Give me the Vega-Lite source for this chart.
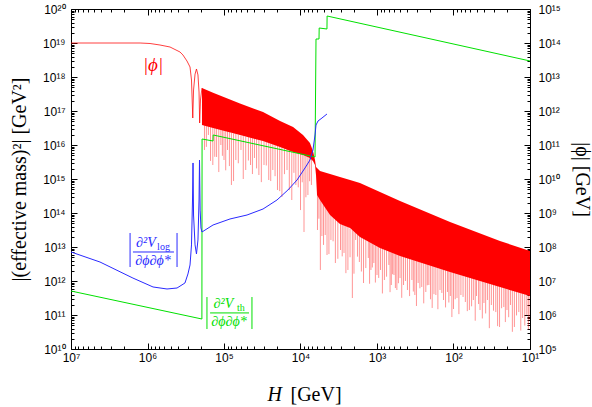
{
 "$schema": "https://vega.github.io/schema/vega-lite/v6.json",
 "width": 459, "height": 340,
 "autosize": {"type": "none"},
 "padding": {"left": 71, "top": 9, "right": 62, "bottom": 58},
 "background": "white",
 "config": {
  "view": {"stroke": null},
  "axis": {"grid": false, "domainColor": "black", "domainWidth": 1, "tickColor": "black", "tickWidth": 1,
   "labelFont": "Liberation Sans", "labelFontSize": 12, "labelColor": "black",
   "titleFont": "Liberation Serif", "titleFontSize": 20, "titleFontWeight": "normal", "titleColor": "black",
   "labelFlush": false, "labelOverlap": false}
 },
 "datasets": {
  "phi": [
   {"H":1e7,"phi":1e14},{"H":1.25e6,"phi":1e14},{"H":9.27e5,"phi":9.66e13},{"H":6.87e5,"phi":8.73e13},{"H":5.08e5,"phi":7.62e13},{"H":3.76e5,"phi":5.44e13},{"H":3.44e5,"phi":4.44e13},{"H":3.05e5,"phi":2.96e13},{"H":2.78e5,"phi":1.97e13},{"H":2.66e5,"phi":8.16e12},{"H":2.56e5,"phi":6.22e11},{"H":2.50e5,"phi":4.15e12},{"H":2.39e5,"phi":1.22e13},{"H":2.29e5,"phi":1.72e13},{"H":2.19e5,"phi":1.15e13},{"H":2.12e5,"phi":3.62e12},{"H":2.08e5,"phi":4.44e11},{"H":2.03e5,"phi":2.11e12},{"H":1.94e5,"phi":4.75e12}
  ],
  "band": [
   {"H":1.94e5,"top":4.75e12,"bot":3.87e11},{"H":1.39e5,"top":3.43e12,"bot":3.16e11},{"H":6.18e4,"top":1.67e12,"bot":1.97e11},{"H":3.09e4,"top":9.35e11,"bot":1.31e11},{"H":1.85e4,"top":5.08e11,"bot":8.73e10},{"H":1.25e4,"top":3.38e11,"bot":6.22e10},{"H":9.27e3,"top":1.97e11,"bot":5.08e10},{"H":7.52e3,"top":1.15e11,"bot":4.15e10},{"H":6.87e3,"top":6.67e10,"bot":3.38e10},{"H":6.46e3,"top":3.62e10,"bot":2.58e10},{"H":6.27e3,"top":2.25e10,"bot":1.31e10},{"H":6.08e3,"top":2.11e10,"bot":3.38e9},{"H":5.56e3,"top":1.72e10,"bot":2.41e9},{"H":4.11e3,"top":1.40e10,"bot":8.73e8},{"H":3.05e3,"top":1.15e10,"bot":4.75e8},{"H":2.25e3,"top":9.35e9,"bot":3.62e8},{"H":1.67e3,"top":7.62e9,"bot":1.97e8},{"H":914,"top":4.15e9,"bot":9.35e7},{"H":500,"top":2.25e9,"bot":5.44e7},{"H":111,"top":5.44e8,"bot":1.84e7},{"H":24.7,"top":1.50e8,"bot":6.67e6},{"H":10,"top":7.62e7,"bot":3.62e6}
  ],
  "spikes": [
   {"H":1.8e5,"hi":4.59e11,"lo":7.13e10},{"H":1.6e5,"hi":4.26e11,"lo":1.97e11},{"H":1.4e5,"hi":3.87e11,"lo":2.58e10},{"H":1.25e5,"hi":3.38e11,"lo":4.44e10},{"H":1.1e5,"hi":2.96e11,"lo":1.0e11},{"H":1e5,"hi":2.76e11,"lo":3.62e10},{"H":9e4,"hi":2.58e11,"lo":7.13e10},{"H":8e4,"hi":2.25e11,"lo":6.67e9},{"H":7e4,"hi":2.11e11,"lo":3.62e10},{"H":6e4,"hi":1.90e11,"lo":7.13e10},{"H":5.2e4,"hi":1.77e11,"lo":1.84e10},{"H":4.5e4,"hi":1.72e11,"lo":2.58e10},{"H":4e4,"hi":1.66e11,"lo":4.15e10},{"H":3.5e4,"hi":1.63e11,"lo":1.31e10},{"H":3e4,"hi":1.61e11,"lo":2.58e10},{"H":2.6e4,"hi":1.36e11,"lo":9.35e9},{"H":2.3e4,"hi":1.27e11,"lo":1.84e10},{"H":2e4,"hi":1.15e11,"lo":4.75e9},{"H":1.75e4,"hi":1.03e11,"lo":2.96e9},{"H":1.5e4,"hi":9.04e10,"lo":1.84e10},{"H":1.3e4,"hi":8.0e10,"lo":2.41e9},{"H":1.15e4,"hi":7.13e10,"lo":6.67e9},{"H":1e4,"hi":6.67e10,"lo":1.22e9},{"H":9e3,"hi":6.10e10,"lo":2.76e8},{"H":8e3,"hi":5.55e10,"lo":3.38e9},{"H":7.2e3,"hi":4.75e10,"lo":6.67e9},
   {"H":1.7e5,"hi":4.4e11,"lo":8.8e10},{"H":1.5e5,"hi":4.05e11,"lo":3.4e10},{"H":1.32e5,"hi":3.6e11,"lo":4.5e10},{"H":1.17e5,"hi":3.17e11,"lo":1.6e10},{"H":1.05e5,"hi":2.86e11,"lo":4.8e10},{"H":9.5e4,"hi":2.67e11,"lo":1.8e10},{"H":8.5e4,"hi":2.4e11,"lo":2.4e10},{"H":7.5e4,"hi":2.18e11,"lo":8.7e9},{"H":6.5e4,"hi":2.0e11,"lo":2.9e10},{"H":5.6e4,"hi":1.83e11,"lo":1.0e10},{"H":4.8e4,"hi":1.74e11,"lo":3.5e10},{"H":4.25e4,"hi":1.69e11,"lo":1.4e10},{"H":3.75e4,"hi":1.64e11,"lo":2.05e10},{"H":3.25e4,"hi":1.62e11,"lo":8.1e9},{"H":2.8e4,"hi":1.48e11,"lo":2.5e10},{"H":2.45e4,"hi":1.31e11,"lo":8.7e9},{"H":2.15e4,"hi":1.21e11,"lo":1.21e10},{"H":1.87e4,"hi":1.09e11,"lo":4.4e9},{"H":1.62e4,"hi":9.7e10,"lo":1.39e10},{"H":1.4e4,"hi":8.5e10,"lo":4.7e9},{"H":1.22e4,"hi":7.6e10,"lo":1.52e10},{"H":1.07e4,"hi":6.9e10,"lo":5.7e9},{"H":9.5e3,"hi":6.4e10,"lo":8e9},{"H":8.5e3,"hi":5.8e10,"lo":2.9e9},{"H":7.6e3,"hi":5.15e10,"lo":8.6e9},
   {"H":6000,"hi":3.87e9,"lo":3.16e8},{"H":5500,"hi":2.96e9,"lo":2.11e7},{"H":5000,"hi":2.11e9,"lo":1.15e8},{"H":4500,"hi":1.50e9,"lo":5.82e7},{"H":4000,"hi":1.0e9,"lo":1.61e8},{"H":3500,"hi":7.62e8,"lo":3.38e7},{"H":3000,"hi":5.82e8,"lo":8.16e7},{"H":2700,"hi":4.75e8,"lo":6.67e7},{"H":2400,"hi":3.87e8,"lo":2.11e7},{"H":2100,"hi":3.16e8,"lo":3.16e6},{"H":1900,"hi":2.76e8,"lo":1.61e8},{"H":1700,"hi":2.41e8,"lo":3.62e7},{"H":1500,"hi":2.11e8,"lo":8.73e6},{"H":1300,"hi":1.72e8,"lo":4.75e7},{"H":1200,"hi":1.61e8,"lo":2.11e7},{"H":1100,"hi":1.40e8,"lo":3.38e7},{"H":1000,"hi":1.31e8,"lo":1.50e7},{"H":900,"hi":1.15e8,"lo":2.11e7},{"H":800,"hi":1.0e8,"lo":1.07e7},{"H":700,"hi":8.73e7,"lo":2.96e7},{"H":650,"hi":8.16e7,"lo":7.62e6},{"H":600,"hi":7.62e7,"lo":1.50e7},{"H":550,"hi":7.13e7,"lo":5.44e6},{"H":500,"hi":6.67e7,"lo":1.22e7},{"H":450,"hi":6.22e7,"lo":7.62e6},{"H":400,"hi":5.82e7,"lo":5.44e6},{"H":350,"hi":5.08e7,"lo":1.07e7},{"H":320,"hi":4.75e7,"lo":3.87e6},{"H":290,"hi":4.44e7,"lo":8.73e6},{"H":260,"hi":4.15e7,"lo":6.67e6},{"H":230,"hi":3.87e7,"lo":4.75e6},{"H":210,"hi":3.62e7,"lo":7.62e6},{"H":190,"hi":3.38e7,"lo":1.61e6},{"H":170,"hi":3.16e7,"lo":3.87e6},{"H":150,"hi":2.76e7,"lo":5.44e6},{"H":135,"hi":2.58e7,"lo":2.76e6},{"H":120,"hi":2.41e7,"lo":4.75e6},{"H":110,"hi":2.25e7,"lo":3.62e6},{"H":100,"hi":2.11e7,"lo":1.50e6},{"H":90,"hi":1.97e7,"lo":3.16e6},{"H":80,"hi":1.84e7,"lo":3.87e6},{"H":70,"hi":1.61e7,"lo":2.41e6},{"H":62,"hi":1.50e7,"lo":1.40e6},{"H":55,"hi":1.40e7,"lo":2.76e6},{"H":50,"hi":1.31e7,"lo":3.62e6},{"H":45,"hi":1.22e7,"lo":1.40e6},{"H":40,"hi":1.15e7,"lo":2.25e6},{"H":36,"hi":1.07e7,"lo":2.76e6},{"H":32,"hi":1.0e7,"lo":1.97e6},{"H":28,"hi":8.73e6,"lo":1.22e6},{"H":25,"hi":8.16e6,"lo":4.44e5},{"H":22,"hi":7.62e6,"lo":1.72e6},{"H":20,"hi":7.13e6,"lo":1.40e6},{"H":18,"hi":6.67e6,"lo":1.97e6},{"H":16,"hi":6.22e6,"lo":4.44e5},{"H":14,"hi":5.44e6,"lo":1.22e6},{"H":12.5,"hi":5.08e6,"lo":8.16e5},{"H":11,"hi":4.75e6,"lo":1.0e6},{"H":10,"hi":4.44e6,"lo":7.13e5},
   {"H":5750,"hi":3.4e9,"lo":6.8e8},{"H":5250,"hi":2.5e9,"lo":2.1e8},{"H":4750,"hi":1.8e9,"lo":2.25e8},{"H":4250,"hi":1.25e9,"lo":6.2e7},{"H":3750,"hi":8.8e8,"lo":1.47e8},{"H":3250,"hi":6.7e8,"lo":4.5e7},{"H":2850,"hi":5.3e8,"lo":5.3e7},{"H":2550,"hi":4.3e8,"lo":1.7e7},{"H":2250,"hi":3.5e8,"lo":5e7},{"H":2000,"hi":2.96e8,"lo":1.64e7},{"H":1800,"hi":2.6e8,"lo":5.2e7},{"H":1600,"hi":2.26e8,"lo":1.9e7},{"H":1400,"hi":1.9e8,"lo":2.4e7},{"H":1250,"hi":1.66e8,"lo":8.3e6},{"H":1150,"hi":1.5e8,"lo":2.5e7},{"H":1050,"hi":1.35e8,"lo":9e6},{"H":950,"hi":1.23e8,"lo":1.23e7},{"H":850,"hi":1.07e8,"lo":4.3e6},{"H":750,"hi":9.4e7,"lo":1.34e7},{"H":675,"hi":8.4e7,"lo":4.7e6},{"H":625,"hi":7.9e7,"lo":1.58e7},{"H":575,"hi":7.4e7,"lo":6.2e6},{"H":525,"hi":6.9e7,"lo":8.6e6},{"H":475,"hi":6.4e7,"lo":3.2e6},{"H":425,"hi":6.0e7,"lo":1e7},{"H":375,"hi":5.45e7,"lo":3.6e6},{"H":335,"hi":4.9e7,"lo":4.9e6},{"H":305,"hi":4.6e7,"lo":1.84e6},{"H":275,"hi":4.3e7,"lo":6.1e6},{"H":245,"hi":4.0e7,"lo":2.2e6},{"H":220,"hi":3.75e7,"lo":7.5e6},{"H":200,"hi":3.5e7,"lo":2.9e6},{"H":180,"hi":3.27e7,"lo":4.1e6},{"H":160,"hi":2.96e7,"lo":1.48e6},{"H":142,"hi":2.67e7,"lo":4.45e6},{"H":127,"hi":2.5e7,"lo":1.67e6},{"H":115,"hi":2.33e7,"lo":2.33e6},{"H":105,"hi":2.18e7,"lo":8.7e5},{"H":95,"hi":2.04e7,"lo":2.9e6},{"H":85,"hi":1.9e7,"lo":1.06e6},{"H":75,"hi":1.72e7,"lo":3.4e6},{"H":66,"hi":1.55e7,"lo":1.3e6},{"H":58,"hi":1.45e7,"lo":1.8e6},{"H":52,"hi":1.35e7,"lo":6.8e5},{"H":47,"hi":1.26e7,"lo":2.1e6},{"H":42,"hi":1.18e7,"lo":7.9e5},{"H":38,"hi":1.11e7,"lo":1.11e6},{"H":34,"hi":1.03e7,"lo":4.1e5},{"H":30,"hi":9.4e6,"lo":1.34e6},{"H":26.5,"hi":8.4e6,"lo":4.7e5},{"H":23.5,"hi":7.9e6,"lo":1.58e6},{"H":21,"hi":7.4e6,"lo":6.2e5},{"H":19,"hi":6.9e6,"lo":8.6e5},{"H":17,"hi":6.4e6,"lo":3.2e5},{"H":15,"hi":5.8e6,"lo":9.7e5},{"H":13.2,"hi":5.3e6,"lo":3.5e5},{"H":11.7,"hi":4.9e6,"lo":4.9e5},{"H":10.5,"hi":4.6e6,"lo":3.8e5}
  ],
  "vth": [
   {"H":1e7,"m2":5.08e11},{"H":1.945e5,"m2":7.62e10},{"H":1.935e5,"m2":1.50e16},{"H":1.39e5,"m2":1.31e16},{"H":1.385e5,"m2":1.97e16},{"H":6.46e3,"m2":4.44e15},{"H":6.27e3,"m2":1.31e19},{"H":5.73e3,"m2":1.31e19},{"H":5.70e3,"m2":2.76e19},{"H":4.51e3,"m2":2.58e19},{"H":4.49e3,"m2":6.22e19},{"H":10,"m2":2.96e18}
  ],
  "vlog": [
   {"H":1e7,"m2":7.13e12},{"H":4.18e6,"m2":3.62e12},{"H":1.55e6,"m2":1.22e12},{"H":8.47e5,"m2":6.67e11},{"H":5.56e5,"m2":5.82e11},{"H":4.11e5,"m2":6.22e11},{"H":3.24e5,"m2":8.73e11},{"H":2.96e5,"m2":1.61e12},{"H":2.78e5,"m2":2.96e12},{"H":2.66e5,"m2":1.15e13},{"H":2.58e5,"m2":2.41e14},{"H":2.54e5,"m2":2.96e15},{"H":2.50e5,"m2":8.73e13},{"H":2.39e5,"m2":1.15e13},{"H":2.29e5,"m2":6.22e12},{"H":2.19e5,"m2":1.61e13},{"H":2.12e5,"m2":2.41e14},{"H":2.09e5,"m2":3.62e15},{"H":2.05e5,"m2":1.22e14},{"H":2.0e5,"m2":3.62e13},{"H":1.94e5,"m2":2.76e13},{"H":1.39e5,"m2":4.44e13},{"H":8.35e4,"m2":6.67e13},{"H":5.0e4,"m2":8.73e13},{"H":3.09e4,"m2":1.31e14},{"H":2.03e4,"m2":2.41e14},{"H":1.46e4,"m2":4.75e14},{"H":1.11e4,"m2":9.35e14},{"H":8.73e3,"m2":2.11e15},{"H":7.52e3,"m2":3.62e15},{"H":6.87e3,"m2":7.13e15},{"H":6.46e3,"m2":1.97e16},{"H":6.27e3,"m2":3.87e16},{"H":5.90e3,"m2":5.08e16},{"H":5.24e3,"m2":6.22e16},{"H":4.51e3,"m2":8.16e16}
  ]
 },
 "resolve": {"scale": {"x": "independent", "y": "independent"}, "axis": {"x": "independent", "y": "independent"}},
 "layer": [
  {
   "data": {"name": "band"},
   "mark": {"type": "area", "color": "#ff0000", "clip": true},
   "encoding": {
    "x": {"field": "H", "type": "quantitative", "scale": {"type": "log", "domain": [10, 1e7], "reverse": true, "nice": false},
     "axis": {"orient": "top", "values": [10,100,1000,10000,100000,1000000,10000000], "labels": false, "tickSize": -6, "title": null}},
    "y": {"field": "top", "type": "quantitative", "scale": {"type": "log", "domain": [1e5, 1e15], "nice": false},
     "axis": {"orient": "right", "values": [1e5,1e6,1e7,1e8,1e9,1e10,1e11,1e12,1e13,1e14,1e15], "tickSize": -6, "labelPadding": 14,
      "labelExpr": "'10' + replace(replace(replace(replace(replace(replace(replace(replace(replace(replace('' + round(log(datum.value)/LN10), regexp('0','g'), '⁰'), regexp('1','g'), '¹'), regexp('2','g'), '²'), regexp('3','g'), '³'), regexp('4','g'), '⁴'), regexp('5','g'), '⁵'), regexp('6','g'), '⁶'), regexp('7','g'), '⁷'), regexp('8','g'), '⁸'), regexp('9','g'), '⁹')",
      "title": "|ϕ| [GeV]", "titleX": 51, "titleY": 170, "titleAngle": 90, "titleAlign": "center", "titleBaseline": "middle"}},
    "y2": {"field": "bot"}
   }
  },
  {
   "data": {"name": "spikes"},
   "mark": {"type": "rule", "color": "#ff0000", "opacity": 0.42, "strokeWidth": 1, "clip": true},
   "encoding": {
    "x": {"field": "H", "type": "quantitative", "scale": {"type": "log", "domain": [10, 1e7], "reverse": true, "nice": false},
     "axis": {"orient": "top", "values": [20,30,40,50,60,70,80,90,200,300,400,500,600,700,800,900,2000,3000,4000,5000,6000,7000,8000,9000,20000,30000,40000,50000,60000,70000,80000,90000,200000,300000,400000,500000,600000,700000,800000,900000,2000000,3000000,4000000,5000000,6000000,7000000,8000000,9000000], "labels": false, "domain": false, "tickSize": -3, "title": null}},
    "y": {"field": "lo", "type": "quantitative", "scale": {"type": "log", "domain": [1e5, 1e15], "nice": false},
     "axis": {"orient": "right", "values": [2e5,3e5,4e5,5e5,6e5,7e5,8e5,9e5,2e6,3e6,4e6,5e6,6e6,7e6,8e6,9e6,2e7,3e7,4e7,5e7,6e7,7e7,8e7,9e7,2e8,3e8,4e8,5e8,6e8,7e8,8e8,9e8,2e9,3e9,4e9,5e9,6e9,7e9,8e9,9e9,2e10,3e10,4e10,5e10,6e10,7e10,8e10,9e10,2e11,3e11,4e11,5e11,6e11,7e11,8e11,9e11,2e12,3e12,4e12,5e12,6e12,7e12,8e12,9e12,2e13,3e13,4e13,5e13,6e13,7e13,8e13,9e13,2e14,3e14,4e14,5e14,6e14,7e14,8e14,9e14], "labels": false, "domain": false, "tickSize": -3, "title": null}},
    "y2": {"field": "hi"}
   }
  },
  {
   "data": {"name": "phi"},
   "mark": {"type": "line", "color": "#ff0000", "strokeWidth": 1, "opacity": 0.75, "clip": true},
   "encoding": {
    "x": {"field": "H", "type": "quantitative", "scale": {"type": "log", "domain": [10, 1e7], "reverse": true, "nice": false}, "axis": null},
    "y": {"field": "phi", "type": "quantitative", "scale": {"type": "log", "domain": [1e5, 1e15], "nice": false}, "axis": null},
    "order": {"value": null}
   }
  },
  {
   "data": {"name": "vth"},
   "mark": {"type": "line", "color": "#00e000", "strokeWidth": 1, "clip": true},
   "encoding": {
    "x": {"field": "H", "type": "quantitative", "scale": {"type": "log", "domain": [10, 1e7], "reverse": true, "nice": false},
     "axis": {"orient": "bottom", "values": [10,100,1000,10000,100000,1000000,10000000], "tickSize": -6, "labelPadding": 9,
      "labelExpr": "'10' + replace(replace(replace(replace(replace(replace(replace(replace(replace(replace('' + round(log(datum.value)/LN10), regexp('0','g'), '⁰'), regexp('1','g'), '¹'), regexp('2','g'), '²'), regexp('3','g'), '³'), regexp('4','g'), '⁴'), regexp('5','g'), '⁵'), regexp('6','g'), '⁶'), regexp('7','g'), '⁷'), regexp('8','g'), '⁸'), regexp('9','g'), '⁹')",
      "title": "[GeV]", "titleX": 219, "titleY": 51, "titleAngle": 0, "titleAlign": "left", "titleBaseline": "alphabetic"}},
    "y": {"field": "m2", "type": "quantitative", "scale": {"type": "log", "domain": [1e10, 1e20], "nice": false},
     "axis": {"orient": "left", "values": [1e10,1e11,1e12,1e13,1e14,1e15,1e16,1e17,1e18,1e19,1e20], "tickSize": -6, "labelPadding": 12,
      "labelExpr": "'10' + replace(replace(replace(replace(replace(replace(replace(replace(replace(replace('' + round(log(datum.value)/LN10), regexp('0','g'), '⁰'), regexp('1','g'), '¹'), regexp('2','g'), '²'), regexp('3','g'), '³'), regexp('4','g'), '⁴'), regexp('5','g'), '⁵'), regexp('6','g'), '⁶'), regexp('7','g'), '⁷'), regexp('8','g'), '⁸'), regexp('9','g'), '⁹')",
      "title": "|(effective mass)²| [GeV²]", "titleX": -52, "titleY": 170, "titleAngle": 270, "titleAlign": "center", "titleBaseline": "middle"}},
    "order": {"value": null}
   }
  },
  {
   "data": {"name": "vlog"},
   "mark": {"type": "line", "color": "#2a2aff", "strokeWidth": 1, "clip": true},
   "encoding": {
    "x": {"field": "H", "type": "quantitative", "scale": {"type": "log", "domain": [10, 1e7], "reverse": true, "nice": false},
     "axis": {"orient": "bottom", "values": [20,30,40,50,60,70,80,90,200,300,400,500,600,700,800,900,2000,3000,4000,5000,6000,7000,8000,9000,20000,30000,40000,50000,60000,70000,80000,90000,200000,300000,400000,500000,600000,700000,800000,900000,2000000,3000000,4000000,5000000,6000000,7000000,8000000,9000000], "labels": false, "domain": false, "tickSize": -3,
      "title": "H", "titleFontStyle": "italic", "titleX": 196, "titleY": 51, "titleAngle": 0, "titleAlign": "left", "titleBaseline": "alphabetic"}},
    "y": {"field": "m2", "type": "quantitative", "scale": {"type": "log", "domain": [1e10, 1e20], "nice": false},
     "axis": {"orient": "left", "values": [2e10,3e10,4e10,5e10,6e10,7e10,8e10,9e10,2e11,3e11,4e11,5e11,6e11,7e11,8e11,9e11,2e12,3e12,4e12,5e12,6e12,7e12,8e12,9e12,2e13,3e13,4e13,5e13,6e13,7e13,8e13,9e13,2e14,3e14,4e14,5e14,6e14,7e14,8e14,9e14,2e15,3e15,4e15,5e15,6e15,7e15,8e15,9e15,2e16,3e16,4e16,5e16,6e16,7e16,8e16,9e16,2e17,3e17,4e17,5e17,6e17,7e17,8e17,9e17,2e18,3e18,4e18,5e18,6e18,7e18,8e18,9e18,2e19,3e19,4e19,5e19,6e19,7e19,8e19,9e19], "labels": false, "domain": false, "tickSize": -3, "title": null}},
    "order": {"value": null}
   }
  },
  {
   "data": {"values": [{}]},
   "layer": [
    {"mark": {"type": "text", "text": "|ϕ|", "font": "Liberation Serif", "fontSize": 19, "fontStyle": "italic", "color": "#ff0000"},
     "encoding": {"x": {"datum": 8.47e5, "type": "quantitative", "scale": {"type": "log", "domain": [10, 1e7], "reverse": true, "nice": false}, "axis": null},
      "y": {"datum": 2.25e18, "type": "quantitative", "scale": {"type": "log", "domain": [1e10, 1e20], "nice": false}, "axis": null}}},
    {"mark": {"type": "rule", "color": "#2a2aff", "strokeWidth": 1},
     "encoding": {"x": {"datum": 1.69e6, "type": "quantitative", "axis": null}, "y": {"datum": 2.58e13, "type": "quantitative", "axis": null}, "y2": {"datum": 2.58e12}}},
    {"mark": {"type": "rule", "color": "#2a2aff", "strokeWidth": 1},
     "encoding": {"x": {"datum": 4.11e5, "type": "quantitative", "axis": null}, "y": {"datum": 2.58e13, "type": "quantitative", "axis": null}, "y2": {"datum": 2.58e12}}},
    {"mark": {"type": "rule", "color": "#2a2aff", "strokeWidth": 1},
     "encoding": {"x": {"datum": 1.55e6, "type": "quantitative", "axis": null}, "x2": {"datum": 4.51e5}, "y": {"datum": 7.13e12, "type": "quantitative", "axis": null}}},
    {"mark": {"type": "text", "text": "∂²V", "font": "Liberation Serif", "fontSize": 14, "fontStyle": "italic", "color": "#2a2aff"},
     "encoding": {"x": {"datum": 1.05e6, "type": "quantitative", "axis": null}, "y": {"datum": 1.31e13, "type": "quantitative", "axis": null}}},
    {"mark": {"type": "text", "text": "log", "font": "Liberation Serif", "fontSize": 10, "color": "#2a2aff"},
     "encoding": {"x": {"datum": 6.18e5, "type": "quantitative", "axis": null}, "y": {"datum": 1.0e13, "type": "quantitative", "axis": null}}},
    {"mark": {"type": "text", "text": "∂ϕ∂ϕ*", "font": "Liberation Serif", "fontSize": 14, "fontStyle": "italic", "color": "#2a2aff"},
     "encoding": {"x": {"datum": 8.47e5, "type": "quantitative", "axis": null}, "y": {"datum": 3.87e12, "type": "quantitative", "axis": null}}},
    {"mark": {"type": "rule", "color": "#00e000", "strokeWidth": 1},
     "encoding": {"x": {"datum": 1.67e5, "type": "quantitative", "axis": null}, "y": {"datum": 3.38e11, "type": "quantitative", "axis": null}, "y2": {"datum": 3.87e10}}},
    {"mark": {"type": "rule", "color": "#00e000", "strokeWidth": 1},
     "encoding": {"x": {"datum": 4.31e4, "type": "quantitative", "axis": null}, "y": {"datum": 3.38e11, "type": "quantitative", "axis": null}, "y2": {"datum": 3.87e10}}},
    {"mark": {"type": "rule", "color": "#00e000", "strokeWidth": 1},
     "encoding": {"x": {"datum": 1.52e5, "type": "quantitative", "axis": null}, "x2": {"datum": 4.71e4}, "y": {"datum": 1.15e11, "type": "quantitative", "axis": null}}},
    {"mark": {"type": "text", "text": "∂²V", "font": "Liberation Serif", "fontSize": 14, "fontStyle": "italic", "color": "#00e000"},
     "encoding": {"x": {"datum": 1.02e5, "type": "quantitative", "axis": null}, "y": {"datum": 2.11e11, "type": "quantitative", "axis": null}}},
    {"mark": {"type": "text", "text": "th", "font": "Liberation Serif", "fontSize": 10, "color": "#00e000"},
     "encoding": {"x": {"datum": 6.0e4, "type": "quantitative", "axis": null}, "y": {"datum": 1.61e11, "type": "quantitative", "axis": null}}},
    {"mark": {"type": "text", "text": "∂ϕ∂ϕ*", "font": "Liberation Serif", "fontSize": 14, "fontStyle": "italic", "color": "#00e000"},
     "encoding": {"x": {"datum": 8.6e4, "type": "quantitative", "axis": null}, "y": {"datum": 6.22e10, "type": "quantitative", "axis": null}}}
   ]
  }
 ]
}
